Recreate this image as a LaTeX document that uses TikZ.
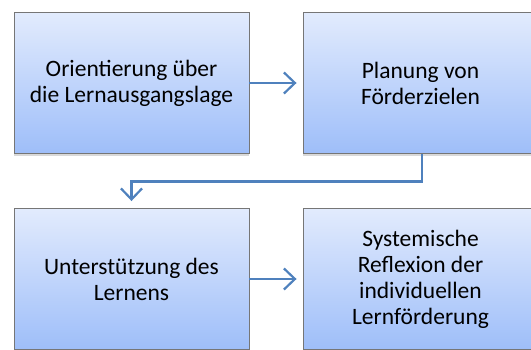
\documentclass[tikz,border=0pt]{standalone}
\usepackage{fontspec}
\setmainfont{Carlito}
\usetikzlibrary{arrows.meta,shadows}
\definecolor{kasteno}{RGB}{226,235,253}
\definecolor{kastenu}{RGB}{158,190,249}
\definecolor{rand}{RGB}{118,118,118}
\definecolor{linie}{RGB}{79,129,189}
\tikzset{
  stufe/.style={draw=rand, line width=0.9pt, top color=kasteno, bottom color=kastenu,
    minimum width=235pt, minimum height=141pt, align=center,
    font=\fontsize{23.5}{26}\selectfont,
    drop shadow={shadow xshift=0pt, shadow yshift=-3pt, opacity=0.3}},
  pfeil/.style={draw=linie, line width=2.4pt, -{Straight Barb[length=11pt,width=21pt,line width=2.2pt]}}
}
\begin{document}
\begin{tikzpicture}[x=1pt,y=1pt]
  \useasboundingbox (0,0) rectangle (531,350); % 画布
  \node[stufe] (orient) at (131.5,267) {Orientierung über\\die Lernausgangslage}; % 第一步
  \node[stufe] (planung) at (420.5,267) {Planung von\\Förderzielen}; % 第二步
  \node[stufe] (unterst) at (131.5,71) {Unterstützung des\\Lernens}; % 第三步
  \node[stufe] (reflex) at (420.5,71) {Systemische\\Reflexion der\\individuellen\\Lernförderung}; % 第四步
  \draw[pfeil, shorten >=6pt] (orient) -- (planung); % 箭头
  \draw[pfeil, shorten >=7pt] (planung.south) ++(1.5,0) -- ++(0,-27.5) -| (unterst.north); % 折线箭头
  \draw[pfeil, shorten >=6pt] (unterst) -- (reflex); % 箭头
\end{tikzpicture}
\end{document}
